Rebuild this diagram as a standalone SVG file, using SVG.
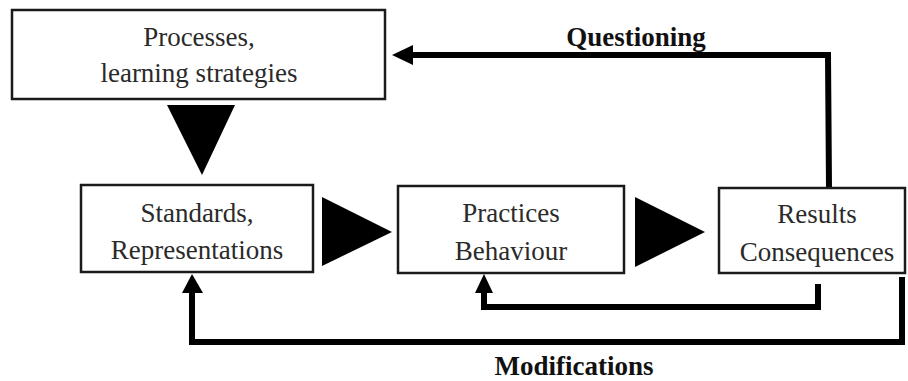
<svg xmlns="http://www.w3.org/2000/svg" width="908" height="381" viewBox="0 0 908 381">
  <defs>
    <style>
      .box { fill: #ffffff; stroke: #1a1a1a; stroke-width: 2.5; }
      .lbl { font-family: "Liberation Serif", "Times New Roman", Times, serif; font-size: 27px; fill: #2a2a2a; text-anchor: middle; }
      .bold { font-family: "Liberation Serif", "Times New Roman", Times, serif; font-size: 27px; font-weight: bold; fill: #111111; text-anchor: middle; }
      .flow { fill: #000000; }
      .loop { fill: none; stroke: #000000; stroke-width: 6; stroke-linejoin: miter; }
      .head { fill: #000000; }
    </style>
  </defs>
  <rect width="908" height="381" fill="#ffffff"/>

  <!-- connectors -->
  <g id="connectors">
    <!-- forward flow triangles -->
    <polygon class="flow" points="167,105 235,105 202,175"/>
    <polygon class="flow" points="322,197 322,266 392,232"/>
    <polygon class="flow" points="635,197 635,267 705,232"/>
    <!-- questioning loop -->
    <polyline class="loop" points="829,188 828,55 410,55"/>
    <polygon class="head" points="392,55 413,45 413,65"/>
    <!-- practices feedback -->
    <polyline class="loop" points="818,284 818,307 484,307 484,290"/>
    <polygon class="head" points="484,274 475,293 493,293"/>
    <!-- modifications loop -->
    <polyline class="loop" points="902,277 902,342 192,342 192,290"/>
    <polygon class="head" points="192,274 182,293 203,293"/>
  </g>

  <g id="processes">
    <rect class="box" x="12" y="10" width="373" height="89"/>
    <text class="lbl" x="199" y="46">Processes,</text>
    <text class="lbl" x="199" y="82">learning strategies</text>
  </g>

  <g id="standards">
    <rect class="box" x="81" y="185" width="232" height="87"/>
    <text class="lbl" x="197" y="222">Standards,</text>
    <text class="lbl" x="197" y="259">Representations</text>
  </g>

  <g id="practices">
    <rect class="box" x="398" y="186" width="226" height="87"/>
    <text class="lbl" x="511" y="222">Practices</text>
    <text class="lbl" x="511" y="260">Behaviour</text>
  </g>

  <g id="results">
    <rect class="box" x="719" y="188" width="186" height="85"/>
    <text class="lbl" x="817" y="223">Results</text>
    <text class="lbl" x="817" y="261">Consequences</text>
  </g>

  <g id="labels">
    <text class="bold" x="636" y="46">Questioning</text>
    <text class="bold" x="574" y="375">Modifications</text>
  </g>
</svg>
